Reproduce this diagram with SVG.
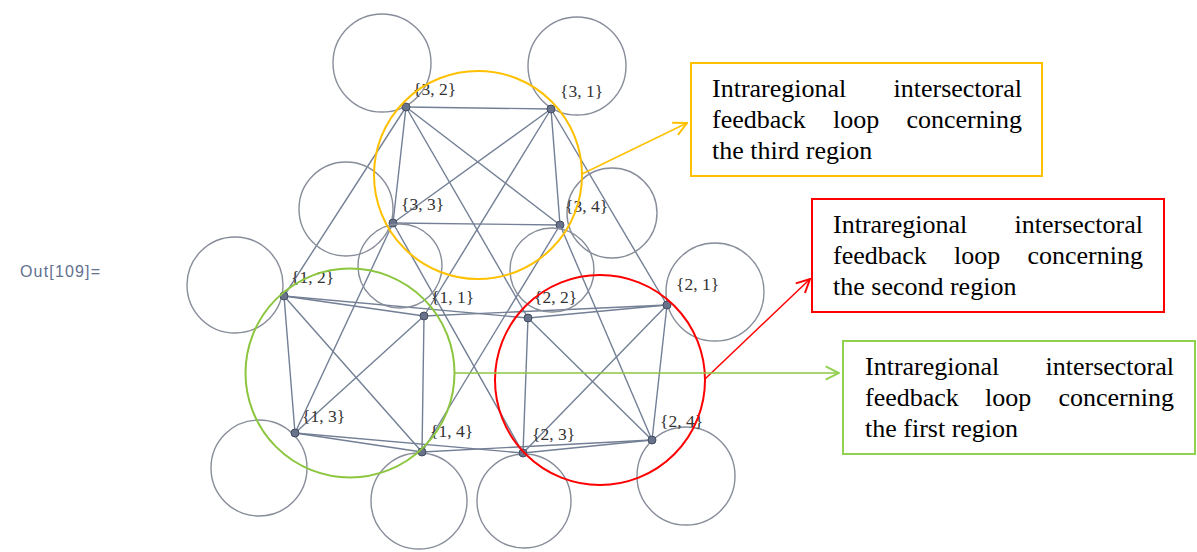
<svg xmlns="http://www.w3.org/2000/svg" width="1197" height="552" viewBox="0 0 1197 552">
<style>
.loop{fill:none;stroke:#878d99;stroke-width:1.4}
.edge{stroke:#737f95;stroke-width:1.4;fill:none}
.dot{fill:#68728a;stroke:#434d60;stroke-width:1}
.lbl{font-family:"Liberation Serif","Times New Roman",serif;font-size:17.5px;fill:#333}
.box{fill:#fff;stroke-width:2}
.bt{font-family:"Liberation Serif","Times New Roman",serif;font-size:26px;fill:#000}
.reg{fill:none;stroke-width:2}
</style>
<defs>
<marker id="ahO" viewBox="0 0 12 12" refX="11" refY="6" markerWidth="16" markerHeight="16" markerUnits="userSpaceOnUse" orient="auto"><path d="M1,1 L11,6 L1,11" fill="none" stroke="#FFC000" stroke-width="1.5"/></marker>
<marker id="ahR" viewBox="0 0 12 12" refX="11" refY="6" markerWidth="16" markerHeight="16" markerUnits="userSpaceOnUse" orient="auto"><path d="M1,1 L11,6 L1,11" fill="none" stroke="#FF0000" stroke-width="1.5"/></marker>
<marker id="ahG" viewBox="0 0 12 12" refX="11" refY="6" markerWidth="16" markerHeight="16" markerUnits="userSpaceOnUse" orient="auto"><path d="M1,1 L11,6 L1,11" fill="none" stroke="#92D050" stroke-width="1.5"/></marker>
</defs>
<rect width="1197" height="552" fill="#fff"/>
<text x="20" y="277" font-family="Liberation Sans, Arial, sans-serif" font-size="16" fill="#62708f" textLength="80">Out[109]=</text>

<g id="connectors">
<!-- region 3 -->
<line class="edge" x1="406" y1="107" x2="551" y2="109"/>
<line class="edge" x1="406" y1="107" x2="393" y2="223"/>
<line class="edge" x1="406" y1="107" x2="560" y2="225"/>
<line class="edge" x1="551" y1="109" x2="393" y2="223"/>
<line class="edge" x1="551" y1="109" x2="560" y2="225"/>
<line class="edge" x1="393" y1="223" x2="560" y2="225"/>
<!-- region 1 -->
<line class="edge" x1="284" y1="296" x2="424" y2="316"/>
<line class="edge" x1="284" y1="296" x2="295" y2="433"/>
<line class="edge" x1="284" y1="296" x2="422" y2="452"/>
<line class="edge" x1="424" y1="316" x2="295" y2="433"/>
<line class="edge" x1="424" y1="316" x2="422" y2="452"/>
<line class="edge" x1="295" y1="433" x2="422" y2="452"/>
<!-- region 2 -->
<line class="edge" x1="528" y1="318" x2="667" y2="305"/>
<line class="edge" x1="528" y1="318" x2="523" y2="453"/>
<line class="edge" x1="528" y1="318" x2="652" y2="440"/>
<line class="edge" x1="667" y1="305" x2="523" y2="453"/>
<line class="edge" x1="667" y1="305" x2="652" y2="440"/>
<line class="edge" x1="523" y1="453" x2="652" y2="440"/>
<!-- interregional -->
<line class="edge" x1="406" y1="107" x2="284" y2="296"/>
<line class="edge" x1="406" y1="107" x2="528" y2="318"/>
<line class="edge" x1="551" y1="109" x2="424" y2="316"/>
<line class="edge" x1="551" y1="109" x2="667" y2="305"/>
<line class="edge" x1="393" y1="223" x2="295" y2="433"/>
<line class="edge" x1="393" y1="223" x2="523" y2="453"/>
<line class="edge" x1="560" y1="225" x2="422" y2="452"/>
<line class="edge" x1="560" y1="225" x2="652" y2="440"/>
<line class="edge" x1="424" y1="316" x2="667" y2="305"/>
<line class="edge" x1="284" y1="296" x2="528" y2="318"/>
<line class="edge" x1="295" y1="433" x2="523" y2="453"/>
<line class="edge" x1="422" y1="452" x2="652" y2="440"/>
</g>

<g id="n32"><circle class="loop" cx="382" cy="63" r="49"/><circle class="dot" cx="406" cy="107" r="4"/><text class="lbl" x="413" y="95">{3, 2}</text></g>
<g id="n31"><circle class="loop" cx="577" cy="66" r="49"/><circle class="dot" cx="551" cy="109" r="4"/><text class="lbl" x="560" y="97">{3, 1}</text></g>
<g id="n33"><circle class="loop" cx="346" cy="209" r="47"/><circle class="dot" cx="393" cy="223" r="4"/><text class="lbl" x="401" y="210">{3, 3}</text></g>
<g id="n34"><circle class="loop" cx="612" cy="213" r="45"/><circle class="dot" cx="560" cy="225" r="4"/><text class="lbl" x="565" y="212">{3, 4}</text></g>
<g id="n12"><circle class="loop" cx="235" cy="285" r="48"/><circle class="dot" cx="284" cy="296" r="4"/><text class="lbl" x="291" y="283">{1, 2}</text></g>
<g id="n11"><circle class="loop" cx="400" cy="266" r="42"/><circle class="dot" cx="424" cy="316" r="4"/><text class="lbl" x="431" y="303">{1, 1}</text></g>
<g id="n13"><circle class="loop" cx="259" cy="468" r="48"/><circle class="dot" cx="295" cy="433" r="4"/><text class="lbl" x="302" y="422">{1, 3}</text></g>
<g id="n14"><circle class="loop" cx="419" cy="501" r="48"/><circle class="dot" cx="422" cy="452" r="4"/><text class="lbl" x="430" y="437">{1, 4}</text></g>
<g id="n22"><circle class="loop" cx="552" cy="270" r="42"/><circle class="dot" cx="528" cy="318" r="4"/><text class="lbl" x="534" y="303">{2, 2}</text></g>
<g id="n21"><circle class="loop" cx="715" cy="292" r="49"/><circle class="dot" cx="667" cy="305" r="4"/><text class="lbl" x="676" y="290">{2, 1}</text></g>
<g id="n23"><circle class="loop" cx="524" cy="501" r="47"/><circle class="dot" cx="523" cy="453" r="4"/><text class="lbl" x="532" y="440">{2, 3}</text></g>
<g id="n24"><circle class="loop" cx="686" cy="476" r="49"/><circle class="dot" cx="652" cy="440" r="4"/><text class="lbl" x="660" y="427">{2, 4}</text></g>

<g id="region3"><circle class="reg" stroke="#FFC000" cx="478" cy="175" r="104"/></g>
<g id="region1"><circle class="reg" stroke="#8CC63F" cx="350" cy="373" r="104.5"/></g>
<g id="region2"><circle class="reg" stroke="#FF0000" cx="600" cy="380" r="105"/></g>

<g id="arrows">
<line x1="582" y1="174" x2="687" y2="123" stroke="#FFC000" stroke-width="1.5" marker-end="url(#ahO)"/>
<line x1="705" y1="379" x2="810" y2="279" stroke="#FF0000" stroke-width="1.5" marker-end="url(#ahR)"/>
<line x1="455" y1="373" x2="839" y2="373" stroke="#8CC63F" stroke-width="1.5" marker-end="url(#ahG)"/>
</g>

<g id="box3">
<rect class="box" stroke="#FFC000" x="691" y="63" width="351" height="113"/>
<text class="bt" x="712" y="97">Intraregional</text><text class="bt" x="1022" y="97" text-anchor="end">intersectoral</text>
<text class="bt" x="712" y="128">feedback</text><text class="bt" x="833" y="128">loop</text><text class="bt" x="1022" y="128" text-anchor="end">concerning</text>
<text class="bt" x="712" y="159">the third region</text>
</g>
<g id="box2">
<rect class="box" stroke="#FF0000" x="812" y="199" width="352" height="113"/>
<text class="bt" x="833" y="233">Intraregional</text><text class="bt" x="1143" y="233" text-anchor="end">intersectoral</text>
<text class="bt" x="833" y="264">feedback</text><text class="bt" x="954" y="264">loop</text><text class="bt" x="1143" y="264" text-anchor="end">concerning</text>
<text class="bt" x="833" y="295">the second region</text>
</g>
<g id="box1">
<rect class="box" stroke="#92D050" x="843" y="341" width="352" height="113"/>
<text class="bt" x="865" y="375">Intraregional</text><text class="bt" x="1174" y="375" text-anchor="end">intersectoral</text>
<text class="bt" x="865" y="406">feedback</text><text class="bt" x="985" y="406">loop</text><text class="bt" x="1174" y="406" text-anchor="end">concerning</text>
<text class="bt" x="865" y="437">the first region</text>
</g>
</svg>
